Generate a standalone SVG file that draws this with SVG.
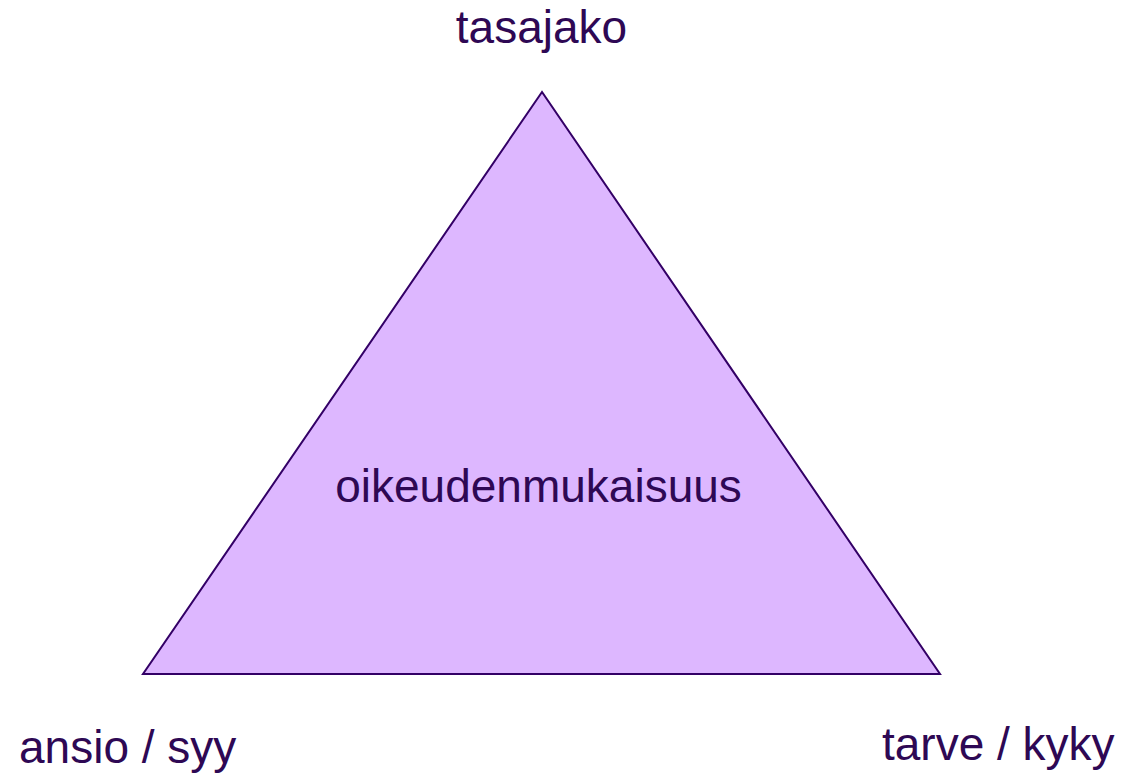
<svg xmlns="http://www.w3.org/2000/svg" width="1124" height="773" viewBox="0 0 1124 773">
<style>
.lbl{font-family:"Liberation Sans",Arial,sans-serif;font-size:46px;fill:#2E0854;}
.tri{fill:#DDB7FF;stroke:#330066;stroke-width:2;stroke-linejoin:miter;}
</style>
<rect width="1124" height="773" fill="#FFFFFF"/>
<g id="triangle">
<polygon class="tri" points="542,92 143,674 940,674"/>
<text class="lbl" x="538.5" y="502" text-anchor="middle">oikeudenmukaisuus</text>
</g>
<g id="top">
<text class="lbl" x="541.5" y="43" text-anchor="middle">tasajako</text>
</g>
<g id="left">
<text class="lbl" x="19" y="763">ansio / syy</text>
</g>
<g id="right">
<text class="lbl" x="882" y="760">tarve / kyky</text>
</g>
<g id="connectors"></g>
</svg>
